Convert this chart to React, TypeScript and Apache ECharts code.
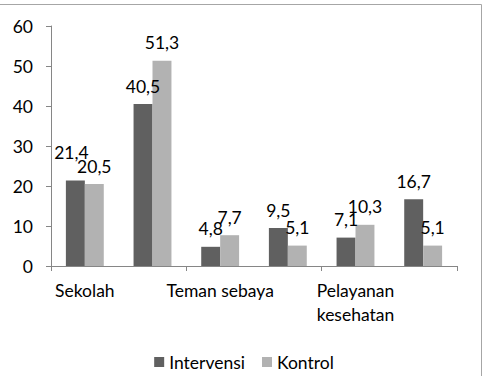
import React, { useEffect, useRef } from "react";
import * as echarts from "echarts";

const categories = ["Sekolah", "Keluarga", "Teman sebaya", "Media", "Pelayanan\nkesehatan", "Lainnya"];
const intervensi = [21.4, 40.5, 4.8, 9.5, 7.1, 16.7];
const kontrol = [20.5, 51.3, 7.7, 5.1, 10.3, 5.1];
const yTicks = { min: 0, max: 60, interval: 10 };

const FONT = "Lato, 'Liberation Sans', sans-serif";
const FS = 17.5;
const fmt = (v: number) => v.toFixed(1).replace(".", ",");

export default function App() {
  const ref = useRef<HTMLDivElement>(null);
  useEffect(() => {
    if (!ref.current) return;
    const chart = echarts.init(ref.current, undefined, { renderer: "svg" });
    const interOffsets: Record<number, number[]> = { 0: [-4, -10] };
    const labelStyle = {
      show: true,
      position: "top",
      distance: 9,
      fontSize: FS,
      color: "#000",
      fontFamily: FONT,
      formatter: (p: any) => fmt(p.value),
    };
    chart.setOption({
      animation: false,
      textStyle: { fontFamily: FONT },
      graphic: [
        {
          type: "rect",
          shape: { x: -2, y: 4.5, width: 483.5, height: 380 },
          style: { fill: "none", stroke: "#a6a6a6", lineWidth: 1 },
          silent: true,
        },
      ],
      grid: { left: 51, right: 31, top: 26, bottom: 110 },
      legend: {
        data: ["Intervensi", "Kontrol"],
        left: "center",
        top: 348,
        icon: "rect",
        itemWidth: 10,
        itemHeight: 10,
        itemGap: 17,
        textStyle: { fontSize: FS, color: "#000", fontFamily: FONT },
      },
      xAxis: {
        type: "category",
        data: categories,
        axisLine: { lineStyle: { color: "#868686" } },
        axisTick: { show: true, length: 5, lineStyle: { color: "#868686" } },
        axisLabel: {
          interval: 1,
          fontSize: FS,
          color: "#000",
          fontFamily: FONT,
          margin: 12,
          lineHeight: 24,
        },
      },
      yAxis: {
        type: "value",
        min: yTicks.min,
        max: yTicks.max,
        interval: yTicks.interval,
        splitLine: { show: false },
        axisLine: { show: true, lineStyle: { color: "#868686" } },
        axisTick: { show: true, length: 5, lineStyle: { color: "#868686" } },
        axisLabel: { fontSize: FS, color: "#000", fontFamily: FONT, margin: 18 },
      },
      series: [
        {
          name: "Intervensi",
          type: "bar",
          barGap: "0%",
          barCategoryGap: "44%",
          itemStyle: { color: "#606060" },
          data: intervensi.map((v, i) => ({
            value: v,
            label: interOffsets[i] ? { offset: interOffsets[i] } : undefined,
          })),
          label: labelStyle,
        },
        {
          name: "Kontrol",
          type: "bar",
          barGap: "0%",
          barCategoryGap: "44%",
          itemStyle: { color: "#b2b2b2" },
          data: kontrol,
          label: labelStyle,
        },
      ],
    });
    return () => chart.dispose();
  }, []);
  return (
    <div
      ref={ref}
      style={{ position: "absolute", left: 0, top: 0, width: 488, height: 376, background: "#fff" }}
    />
  );
}
